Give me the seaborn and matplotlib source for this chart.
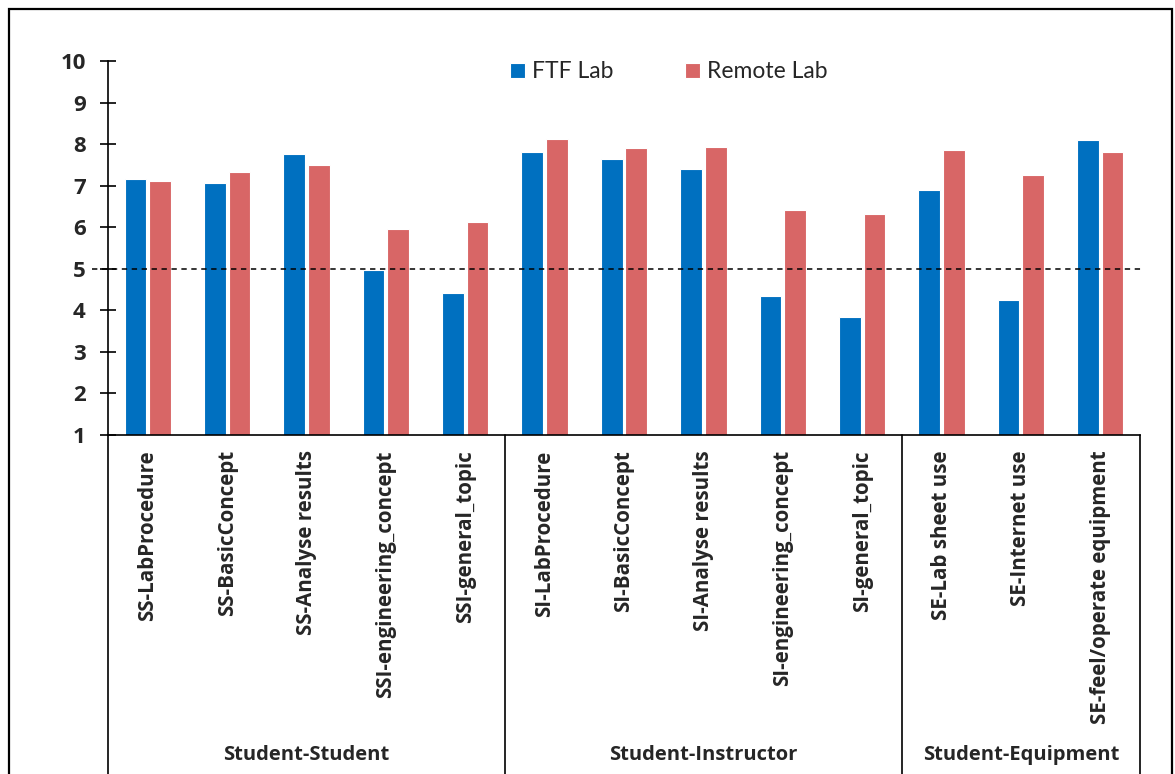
import matplotlib
matplotlib.use("Agg")
import matplotlib.pyplot as plt
from matplotlib.lines import Line2D
from matplotlib.patches import Rectangle
import matplotlib.transforms as mtransforms
import numpy as np
import pandas as pd
import seaborn as sns

# ---- data -------------------------------------------------------------
items = [
    "SS-LabProcedure", "SS-BasicConcept", "SS-Analyse results",
    "SSI-engineering_concept", "SSI-general_topic",
    "SI-LabProcedure", "SI-BasicConcept", "SI-Analyse results",
    "SI-engineering_concept", "SI-general_topic",
    "SE-Lab sheet use", "SE-Internet use", "SE-feel/operate equipment",
]
ftf_lab = [7.17, 7.06, 7.77, 4.98, 4.42, 7.81, 7.63, 7.40, 4.35, 3.83, 6.90, 4.26, 8.11]
remote_lab = [7.12, 7.34, 7.50, 5.95, 6.13, 8.13, 7.91, 7.92, 6.42, 6.33, 7.86, 7.25, 7.81]
series = ["FTF Lab", "Remote Lab"]
groups = ["Student-Student", "Student-Instructor", "Student-Equipment"]
group_sizes = [5, 5, 3]
y_ticks = [1, 2, 3, 4, 5, 6, 7, 8, 9, 10]
threshold = 5

df = pd.DataFrame({
    "item": items * 2,
    "score": ftf_lab + remote_lab,
    "lab": [series[0]] * len(items) + [series[1]] * len(items),
})

# ---- styling ------------------------------------------------------------
sns.set_theme(style="white")
plt.rcParams["font.family"] = ["Lato", "DejaVu Sans"]
BOLD = ["Open Sans", "DejaVu Sans"]

W, H, DPI = 1175, 774, 100
fig = plt.figure(figsize=(W / DPI, H / DPI), dpi=DPI)

ax_left, ax_right, ax_top, ax_bottom = 108, 1140, 61, 435
ax = fig.add_axes([ax_left / W, 1 - ax_bottom / H,
                   (ax_right - ax_left) / W, (ax_bottom - ax_top) / H])

palette = {"FTF Lab": "#0070C0", "Remote Lab": "#D86666"}
sns.barplot(data=df, x="item", y="score", hue="lab", order=items,
            hue_order=series, palette=palette, width=0.62, gap=0.12,
            edgecolor="white", linewidth=0.8, saturation=1, ax=ax,
            legend=True)

ax.set_xlim(-0.5, len(items) - 0.5)
ax.set_ylim(y_ticks[0], y_ticks[-1])
ax.set_yticks(y_ticks)
ax.set_yticklabels([str(t) for t in y_ticks], fontsize=16,
                   fontweight="bold", family=BOLD)
ax.set_xlabel("")
ax.set_ylabel("")

ax.tick_params(axis="y", direction="inout", length=12, width=1.2,
               color="black", pad=10, left=True)
ax.tick_params(axis="x", length=0, pad=11)
ax.set_xticks(range(len(items)))
ax.set_xticklabels(items, rotation=90, fontsize=14.8, fontweight="bold",
                   family=BOLD, va="top", ha="center")

for side in ("top", "right"):
    ax.spines[side].set_visible(False)
for side in ("left", "bottom"):
    ax.spines[side].set_color("black")
    ax.spines[side].set_linewidth(1.2)

# threshold line
ax.axhline(threshold, xmin=-16 / (ax_right - ax_left),
           xmax=1 + 3 / (ax_right - ax_left), color="black", lw=1.1,
           ls=(0, (3.5, 3)), clip_on=False, zorder=3)

# legend
handles, labels = ax.get_legend_handles_labels()
ax.legend_.remove()
fig.legend(handles, labels, loc="center left",
           bbox_to_anchor=(510 / W, 1 - 72 / H), ncol=2, frameon=False,
           fontsize=16.5, handlelength=0.66, handleheight=0.66,
           handletextpad=0.32, columnspacing=3.1, borderaxespad=0,
           borderpad=0)

# group separators and group labels below the axis
trans = mtransforms.blended_transform_factory(ax.transData, ax.transAxes)
bottom_frac = -(H - ax_bottom) / (ax_bottom - ax_top) - 0.01
edges = np.concatenate([[0], np.cumsum(group_sizes)]) - 0.5
for e in edges:
    ax.add_line(Line2D([e, e], [0, bottom_frac], transform=trans,
                       color="black", lw=1.2, clip_on=False))
label_y = -(755 - ax_bottom) / (ax_bottom - ax_top)
for g, a, b in zip(groups, edges[:-1], edges[1:]):
    ax.text((a + b) / 2, label_y, g, transform=trans, ha="center",
            va="center", fontsize=14.5, fontweight="bold", family=BOLD)

# outer frame
fig.add_artist(Rectangle((9 / W, -0.02), (1172 - 9) / W, 1 - 9 / H + 0.02,
                         transform=fig.transFigure, fill=False,
                         edgecolor="black", lw=1.6))

fig.savefig("out.png", dpi=DPI)
